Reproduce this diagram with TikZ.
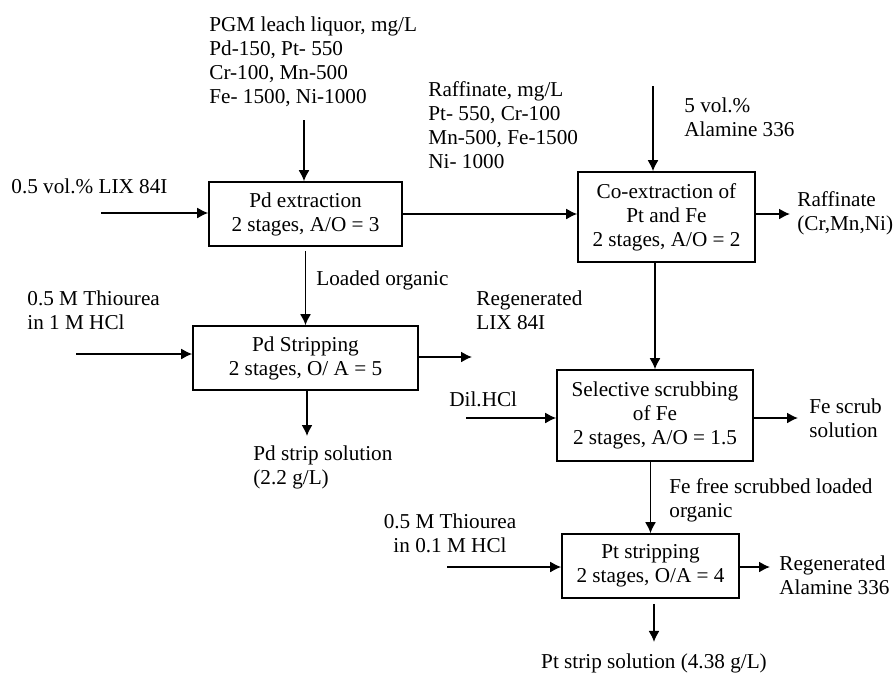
\documentclass[tikz,border=0pt]{standalone}
\usepackage{fontspec}
\setmainfont{Liberation Serif}
\usetikzlibrary{arrows.meta}

\begin{document}
\begin{tikzpicture}[
    x=0.5pt, y=-0.5pt,
    font=\fontsize{10.6}{12}\selectfont,
    box/.style={rectangle, draw, line width=0.8pt, align=center, inner sep=1pt},
    flow/.style={-{Latex[length=5.5pt, width=5.5pt]}, line width=0.8pt},
    txt/.style={anchor=west, align=left, inner sep=0pt}
]
    \useasboundingbox (0,0) rectangle (895,675);

    % the five process units
    \node[box, minimum width=96.5pt, minimum height=32pt] (pdext) at (305.5,214) {Pd extraction\\2 stages, A/O = 3};
    \node[box, minimum width=88.5pt, minimum height=45pt] (coext) at (666.5,217) {Co-extraction of\\Pt and Fe\\2 stages, A/O = 2};
    \node[box, minimum width=112.5pt, minimum height=32pt] (pdstrip) at (305.5,358) {Pd Stripping\\2 stages, O/ A = 5};
    \node[box, minimum width=98pt, minimum height=45.5pt] (scrub) at (655,415.5) {Selective scrubbing\\of Fe\\2 stages, A/O = 1.5};
    \node[box, minimum width=88.5pt, minimum height=32pt] (ptstrip) at (650.5,566) {Pt stripping\\2 stages, O/A = 4};

    \node[txt] (leach) at (209,61.5) {PGM leach liquor, mg/L\\Pd-150, Pt- 550\\Cr-100, Mn-500\\Fe- 1500, Ni-1000};
    \node[txt] (raff) at (428,125) {Raffinate, mg/L\\Pt- 550, Cr-100\\Mn-500, Fe-1500\\Ni- 1000};
    \node[txt] (ala) at (684,117) {5 vol.\%\\Alamine 336};
    \node[txt] (lix) at (11,186) {0.5 vol.\% LIX 84I};
    \node[txt] (loaded) at (316,280) {Loaded organic};
    \node[txt] (thioa) at (27,310) {0.5 M Thiourea\\in 1 M HCl};
    \node[txt] (reglix) at (476,310) {Regenerated\\LIX 84I};
    \node[txt] (pdsol) at (253,467) {Pd strip solution\\(2.2 g/L)};
    \node[align=center, inner sep=0pt] (thiob) at (450,533) {0.5 M Thiourea\\in 0.1 M HCl};
    \node[txt] (dil) at (449,399) {Dil.HCl};
    \node[txt] (raffout) at (797,213) {Raffinate\\(Cr,Mn,Ni)};
    \node[txt] (fescrub) at (809,418) {Fe scrub\\solution};
    \node[txt] (fefree) at (669,500) {Fe free scrubbed loaded\\organic};
    \node[txt] (regala) at (779,575) {Regenerated\\Alamine 336};
    \node[inner sep=0pt] (ptsol) at (654,663) {Pt strip solution (4.38 g/L)};

    \coordinate (leachtop) at (304,120);
    \coordinate (lixin) at (101,213);
    \coordinate (thioain) at (76,354);
    \coordinate (lixout) at (472,357);
    \coordinate (pdsolend) at (307,436);
    \coordinate (alatop) at (653,86);
    \coordinate (rafend) at (790,214);
    \coordinate (dilin) at (466,418);
    \coordinate (feend) at (798,418);
    \coordinate (thiobin) at (447,567);
    \coordinate (alaend) at (770,567);

    \draw[flow] (leachtop) -- (leachtop |- pdext.north);
    \draw[flow] (lixin) -- (lixin -| pdext.west);
    \draw[flow] (pdext) -- (pdext -| coext.west);
    \draw[flow, shorten <=2pt] (pdext.south) -- (pdstrip.north);
    \draw[flow] (thioain) -- (thioain -| pdstrip.west);
    \draw[flow] (pdstrip.east |- lixout) -- (lixout);
    \draw[flow] (pdstrip.south -| pdsolend) -- (pdsolend);
    \draw[flow] (alatop) -- (alatop |- coext.north);
    \draw[flow] (coext.east |- rafend) -- (rafend);
    \draw[flow] (scrub.north |- coext.south) -- (scrub.north);
    \draw[flow] (dilin) -- (dilin -| scrub.west);
    \draw[flow] (scrub.east |- feend) -- (feend);
    \draw[flow] (ptstrip.north |- scrub.south) -- (ptstrip.north);
    \draw[flow] (thiobin) -- (thiobin -| ptstrip.west);
    \draw[flow] (ptstrip.east |- alaend) -- (alaend);
    \draw[flow, shorten <=2.5pt, shorten >=5.5pt] (ptsol.north |- ptstrip.south) -- (ptsol.north);
\end{tikzpicture}
\end{document}
